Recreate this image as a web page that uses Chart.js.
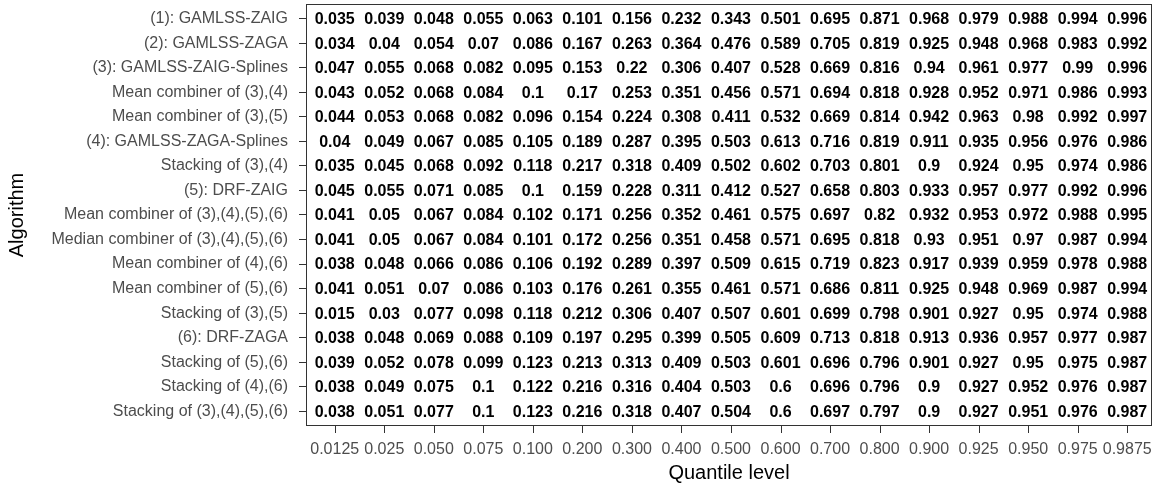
<!DOCTYPE html>
<html lang="en">
<head>
    <meta charset="UTF-8">
    <title>Coverage by quantile level</title>
    <script src="https://cdn.jsdelivr.net/npm/chart.js"></script>
    <style>
        * {
            margin: 0;
            padding: 0;
            box-sizing: border-box;
        }

        body {
            background: #ffffff;
            width: 1158px;
            height: 488px;
            overflow: hidden;
        }
    </style>
</head>
<body>
    <canvas id="coverageChart" width="1158" height="488"></canvas>

    <script>
        // tick labels
        const quantileLevels = ["0.0125", "0.025", "0.050", "0.075", "0.100", "0.200", "0.300", "0.400", "0.500",
            "0.600", "0.700", "0.800", "0.900", "0.925", "0.950", "0.975", "0.9875"];

        const algorithms = [
            "(1): GAMLSS-ZAIG",
            "(2): GAMLSS-ZAGA",
            "(3): GAMLSS-ZAIG-Splines",
            "Mean combiner of (3),(4)",
            "Mean combiner of (3),(5)",
            "(4): GAMLSS-ZAGA-Splines",
            "Stacking of (3),(4)",
            "(5): DRF-ZAIG",
            "Mean combiner of (3),(4),(5),(6)",
            "Median combiner of (3),(4),(5),(6)",
            "Mean combiner of (4),(6)",
            "Mean combiner of (5),(6)",
            "Stacking of (3),(5)",
            "(6): DRF-ZAGA",
            "Stacking of (5),(6)",
            "Stacking of (4),(6)",
            "Stacking of (3),(4),(5),(6)"
        ];

        // one row of values per algorithm, same order as above
        const gamlssZaig = [0.035, 0.039, 0.048, 0.055, 0.063, 0.101, 0.156, 0.232, 0.343, 0.501, 0.695, 0.871, 0.968, 0.979, 0.988, 0.994, 0.996];
        const gamlssZaga = [0.034, 0.04, 0.054, 0.07, 0.086, 0.167, 0.263, 0.364, 0.476, 0.589, 0.705, 0.819, 0.925, 0.948, 0.968, 0.983, 0.992];
        const gamlssZaigSplines = [0.047, 0.055, 0.068, 0.082, 0.095, 0.153, 0.22, 0.306, 0.407, 0.528, 0.669, 0.816, 0.94, 0.961, 0.977, 0.99, 0.996];
        const meanComb34 = [0.043, 0.052, 0.068, 0.084, 0.1, 0.17, 0.253, 0.351, 0.456, 0.571, 0.694, 0.818, 0.928, 0.952, 0.971, 0.986, 0.993];
        const meanComb35 = [0.044, 0.053, 0.068, 0.082, 0.096, 0.154, 0.224, 0.308, 0.411, 0.532, 0.669, 0.814, 0.942, 0.963, 0.98, 0.992, 0.997];
        const gamlssZagaSplines = [0.04, 0.049, 0.067, 0.085, 0.105, 0.189, 0.287, 0.395, 0.503, 0.613, 0.716, 0.819, 0.911, 0.935, 0.956, 0.976, 0.986];
        const stacking34 = [0.035, 0.045, 0.068, 0.092, 0.118, 0.217, 0.318, 0.409, 0.502, 0.602, 0.703, 0.801, 0.9, 0.924, 0.95, 0.974, 0.986];
        const drfZaig = [0.045, 0.055, 0.071, 0.085, 0.1, 0.159, 0.228, 0.311, 0.412, 0.527, 0.658, 0.803, 0.933, 0.957, 0.977, 0.992, 0.996];
        const meanComb3456 = [0.041, 0.05, 0.067, 0.084, 0.102, 0.171, 0.256, 0.352, 0.461, 0.575, 0.697, 0.82, 0.932, 0.953, 0.972, 0.988, 0.995];
        const medianComb3456 = [0.041, 0.05, 0.067, 0.084, 0.101, 0.172, 0.256, 0.351, 0.458, 0.571, 0.695, 0.818, 0.93, 0.951, 0.97, 0.987, 0.994];
        const meanComb46 = [0.038, 0.048, 0.066, 0.086, 0.106, 0.192, 0.289, 0.397, 0.509, 0.615, 0.719, 0.823, 0.917, 0.939, 0.959, 0.978, 0.988];
        const meanComb56 = [0.041, 0.051, 0.07, 0.086, 0.103, 0.176, 0.261, 0.355, 0.461, 0.571, 0.686, 0.811, 0.925, 0.948, 0.969, 0.987, 0.994];
        const stacking35 = [0.015, 0.03, 0.077, 0.098, 0.118, 0.212, 0.306, 0.407, 0.507, 0.601, 0.699, 0.798, 0.901, 0.927, 0.95, 0.974, 0.988];
        const drfZaga = [0.038, 0.048, 0.069, 0.088, 0.109, 0.197, 0.295, 0.399, 0.505, 0.609, 0.713, 0.818, 0.913, 0.936, 0.957, 0.977, 0.987];
        const stacking56 = [0.039, 0.052, 0.078, 0.099, 0.123, 0.213, 0.313, 0.409, 0.503, 0.601, 0.696, 0.796, 0.901, 0.927, 0.95, 0.975, 0.987];
        const stacking46 = [0.038, 0.049, 0.075, 0.1, 0.122, 0.216, 0.316, 0.404, 0.503, 0.6, 0.696, 0.796, 0.9, 0.927, 0.952, 0.976, 0.987];
        const stacking3456 = [0.038, 0.051, 0.077, 0.1, 0.123, 0.216, 0.318, 0.407, 0.504, 0.6, 0.697, 0.797, 0.9, 0.927, 0.951, 0.976, 0.987];

        const rows = [gamlssZaig, gamlssZaga, gamlssZaigSplines, meanComb34, meanComb35, gamlssZagaSplines,
            stacking34, drfZaig, meanComb3456, medianComb3456, meanComb46, meanComb56, stacking35,
            drfZaga, stacking56, stacking46, stacking3456];

        // build the points: x = quantile index, y = algorithm index
        let points = [];
        rows.forEach((row, r) => {
            row.forEach((v, c) => {
                points.push({ x: c, y: r, v: v });
            });
        });

        const indexTicks = n => Array.from({ length: n }, (_, i) => ({ value: i }));

        // write each value at its point, the panel border and the x tick marks
        const cellText = {
            id: "cellText",
            afterDatasetsDraw(chart) {
                const ctx = chart.ctx;
                const meta = chart.getDatasetMeta(0);
                ctx.save();
                ctx.fillStyle = "#000000";
                ctx.font = "bold 16px 'Liberation Sans', Arial, sans-serif";
                ctx.textAlign = "center";
                ctx.textBaseline = "middle";
                meta.data.forEach((el, i) => {
                    ctx.fillText(String(points[i].v), el.x, el.y + 1);
                });
                ctx.restore();
            },
            afterDraw(chart) {
                const { left, top, right, bottom } = chart.chartArea;
                const ctx = chart.ctx;
                const xScale = chart.scales.x;
                ctx.save();
                ctx.strokeStyle = "#333333";
                ctx.lineWidth = 1;
                ctx.strokeRect(left + 0.5, top + 0.5, right - left - 1, bottom - top - 1);
                ctx.beginPath();
                quantileLevels.forEach((q, i) => {
                    const px = Math.round(xScale.getPixelForValue(i)) + 0.5;
                    ctx.moveTo(px, bottom);
                    ctx.lineTo(px, bottom + 7);
                });
                ctx.stroke();
                ctx.restore();
            }
        };

        const bgWhite = {
            id: "bgWhite",
            beforeDraw(chart) {
                const ctx = chart.ctx;
                ctx.save();
                ctx.fillStyle = "#ffffff";
                ctx.fillRect(0, 0, chart.width, chart.height);
                ctx.restore();
            }
        };

        new Chart(document.getElementById("coverageChart"), {
            type: "scatter",
            data: {
                datasets: [{
                    data: points,
                    pointRadius: 0,
                    pointHoverRadius: 0
                }]
            },
            options: {
                responsive: false,
                animation: false,
                events: [],
                layout: {
                    padding: { top: 4, right: 6, left: 0, bottom: 0 }
                },
                plugins: {
                    legend: { display: false },
                    tooltip: { enabled: false }
                },
                scales: {
                    x: {
                        type: "linear",
                        min: -0.58,
                        max: 16.5,
                        afterBuildTicks: scale => { scale.ticks = indexTicks(quantileLevels.length); },
                        afterFit: scale => {
                            scale.height = 62;
                            scale.paddingLeft = 0;
                            scale.paddingRight = 0;
                        },
                        border: { display: false },
                        grid: {
                            display: false,
                            tickLength: 8
                        },
                        ticks: {
                            autoSkip: false,
                            maxRotation: 0,
                            padding: 6,
                            color: "#4d4d4d",
                            font: { family: "'Liberation Sans', Arial, sans-serif", size: 16 },
                            callback: value => quantileLevels[value]
                        },
                        title: {
                            display: true,
                            text: "Quantile level",
                            color: "#000000",
                            padding: { top: 0, bottom: 3 },
                            font: { family: "'Liberation Sans', Arial, sans-serif", size: 20 }
                        }
                    },
                    y: {
                        type: "linear",
                        reverse: true,
                        min: -0.6,
                        max: 16.6,
                        afterBuildTicks: scale => { scale.ticks = indexTicks(algorithms.length); },
                        afterFit: scale => {
                            scale.width = 306;
                            scale.paddingTop = 0;
                            scale.paddingBottom = 0;
                        },
                        border: { display: false },
                        grid: {
                            drawOnChartArea: false,
                            drawTicks: true,
                            tickLength: 7,
                            color: "#333333"
                        },
                        ticks: {
                            autoSkip: false,
                            padding: 11,
                            color: "#4d4d4d",
                            font: { family: "'Liberation Sans', Arial, sans-serif", size: 16 },
                            callback: value => algorithms[value]
                        },
                        title: {
                            display: true,
                            text: "Algorithm",
                            color: "#000000",
                            padding: { top: 5, bottom: 0 },
                            font: { family: "'Liberation Sans', Arial, sans-serif", size: 20 }
                        }
                    }
                }
            },
            plugins: [bgWhite, cellText]
        });
    </script>
</body>
</html>
